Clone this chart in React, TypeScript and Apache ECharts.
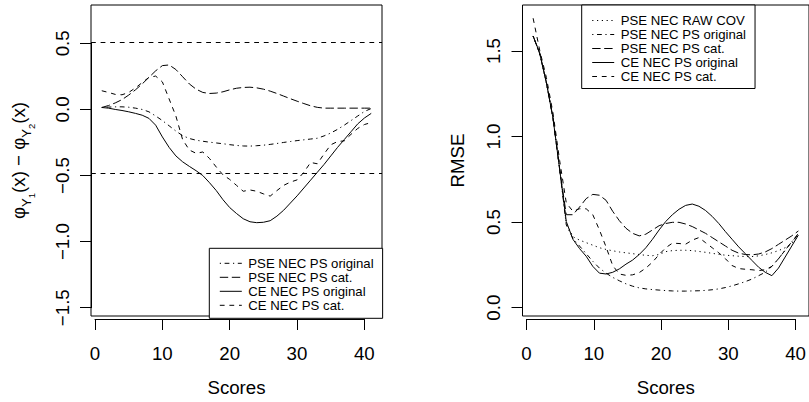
import React, { useEffect, useRef } from "react";
import * as echarts from "echarts";

// ---------- data ----------
const scores = [1, 2, 3, 4, 5, 6, 7, 8, 9, 10, 11, 12, 13, 14, 15, 16, 17, 18, 19, 20, 21, 22, 23, 24, 25, 26, 27, 28, 29, 30, 31, 32, 33, 34, 35, 36, 37, 38, 39, 40, 41];

const xTicks = [0, 10, 20, 30, 40];
const leftYTicks = [-1.5, -1.0, -0.5, 0.0, 0.5];
const rightYTicks = [0.0, 0.5, 1.0, 1.5];
const refLines = [0.5, -0.5];

// left panel: phi_Y1(x) - phi_Y2(x)
const diffPsePsOriginal = [0.005, 0.008, 0.01, 0.01, 0.007, 0.0, -0.01, -0.028, -0.06, -0.095, -0.135, -0.175, -0.21, -0.232, -0.245, -0.253, -0.26, -0.266, -0.272, -0.279, -0.285, -0.289, -0.29, -0.287, -0.283, -0.277, -0.27, -0.262, -0.255, -0.248, -0.242, -0.236, -0.23, -0.212, -0.19, -0.162, -0.13, -0.095, -0.06, -0.025, -0.003];
const diffPsePsCat = [0.005, 0.02, 0.04, 0.065, 0.1, 0.14, 0.185, 0.235, 0.285, 0.325, 0.33, 0.295, 0.24, 0.185, 0.145, 0.12, 0.112, 0.115, 0.125, 0.14, 0.152, 0.158, 0.16, 0.155, 0.145, 0.13, 0.112, 0.092, 0.072, 0.053, 0.035, 0.018, 0.006, 0, 0, 0, 0, 0, 0, 0, 0];
const diffCePsOriginal = [0.005, 0, -0.01, -0.018, -0.028, -0.04, -0.054, -0.078, -0.13, -0.22, -0.3, -0.365, -0.41, -0.445, -0.478, -0.515, -0.57, -0.63, -0.7, -0.76, -0.805, -0.845, -0.868, -0.875, -0.872, -0.86, -0.825, -0.78, -0.725, -0.67, -0.61, -0.55, -0.49, -0.43, -0.365, -0.3, -0.24, -0.18, -0.12, -0.075, -0.04];
const diffCePsCat = [0.133, 0.12, 0.105, 0.102, 0.12, 0.155, 0.195, 0.235, 0.245, 0.2, 0.07, -0.06, -0.24, -0.32, -0.345, -0.335, -0.385, -0.45, -0.51, -0.545, -0.59, -0.635, -0.625, -0.635, -0.655, -0.672, -0.63, -0.59, -0.565, -0.548, -0.49, -0.415, -0.425, -0.35, -0.28, -0.255, -0.25, -0.2, -0.155, -0.125, -0.11];

// right panel: RMSE
const rmsePseRawCov = [1.585, 1.48, 1.31, 1.1, 0.8, 0.48, 0.4, 0.38, 0.365, 0.35, 0.335, 0.325, 0.317, 0.31, 0.305, 0.3, 0.295, 0.29, 0.288, 0.295, 0.312, 0.318, 0.32, 0.32, 0.318, 0.313, 0.308, 0.302, 0.296, 0.291, 0.288, 0.285, 0.283, 0.283, 0.287, 0.295, 0.305, 0.318, 0.335, 0.36, 0.405];
const rmsePsePsOriginal = [1.585, 1.48, 1.31, 1.1, 0.8, 0.47, 0.39, 0.345, 0.3, 0.255, 0.215, 0.185, 0.16, 0.14, 0.122, 0.108, 0.098, 0.092, 0.088, 0.085, 0.082, 0.08, 0.079, 0.079, 0.08, 0.081, 0.083, 0.087, 0.092, 0.1, 0.11, 0.122, 0.135, 0.15, 0.17, 0.19, 0.225, 0.27, 0.32, 0.37, 0.42];
const rmsePsePsCat = [1.585, 1.48, 1.31, 1.1, 0.8, 0.53, 0.53, 0.575, 0.625, 0.65, 0.645, 0.615, 0.55, 0.495, 0.45, 0.42, 0.405, 0.415, 0.44, 0.465, 0.478, 0.485, 0.485, 0.475, 0.46, 0.44, 0.42, 0.395, 0.37, 0.345, 0.32, 0.303, 0.295, 0.293, 0.298, 0.31, 0.33, 0.355, 0.38, 0.405, 0.434];
const rmseCePsOriginal = [1.585, 1.485, 1.31, 1.1, 0.8, 0.49, 0.385, 0.33, 0.285, 0.225, 0.185, 0.18, 0.19, 0.21, 0.238, 0.262, 0.295, 0.335, 0.385, 0.44, 0.49, 0.53, 0.562, 0.585, 0.593, 0.58, 0.555, 0.52, 0.478, 0.43, 0.385, 0.34, 0.3, 0.26, 0.22, 0.19, 0.17, 0.215, 0.28, 0.345, 0.41];
const rmseCePsCat = [1.69, 1.5, 1.34, 1.13, 0.85, 0.6, 0.55, 0.565, 0.565, 0.53, 0.44, 0.34, 0.23, 0.18, 0.172, 0.175, 0.188, 0.215, 0.25, 0.295, 0.335, 0.362, 0.36, 0.356, 0.38, 0.395, 0.365, 0.335, 0.305, 0.27, 0.23, 0.212, 0.208, 0.205, 0.2, 0.205, 0.225, 0.27, 0.32, 0.37, 0.415];

const NAME_RAW = "PSE NEC RAW COV";
const NAME_PSE_ORIG = "PSE NEC PS original";
const NAME_PSE_CAT = "PSE NEC PS cat.";
const NAME_CE_ORIG = "CE NEC PS original";
const NAME_CE_CAT = "CE NEC PS cat.";

const leftLegend = [NAME_PSE_ORIG, NAME_PSE_CAT, NAME_CE_ORIG, NAME_CE_CAT];
const rightLegend = [NAME_RAW, NAME_PSE_ORIG, NAME_PSE_CAT, NAME_CE_ORIG, NAME_CE_CAT];

// ---------- styles ----------
const FONT = '"Liberation Sans", Arial, Helvetica, sans-serif';
const INK = "#000";
const DASHED = [4.8, 4.8];
const LONGDASH = [8.4, 3.6];
const DOTTED = [1.2, 3.6];
const DOTDASH = [1.2, 3.6, 4.8, 3.6];
const SOLID: any = "solid";

const fmt = (v: number) => (Number.isInteger(v) && Math.abs(v) >= 10 ? String(v) : v.toFixed(1)).replace("-", "\u2212");

function lineSeries(name: string, values: number[], dash: any, axis: number, extra: any = {}) {
  return {
    type: "line",
    name,
    xAxisIndex: axis,
    yAxisIndex: axis,
    data: scores.map((s, i) => [s, values[i]]),
    symbol: "none",
    showSymbol: false,
    silent: true,
    lineStyle: { color: INK, width: 1, type: dash },
    itemStyle: { color: INK },
    ...extra,
  };
}

function boxAxisX(gridIndex: number, name: string) {
  return {
    type: "value",
    gridIndex,
    min: -0.6,
    max: 42.6,
    position: "bottom",
    axisLine: { show: false, onZero: false },
    axisTick: { show: false },
    axisLabel: { show: false },
    splitLine: { show: false },
    name,
    nameLocation: "middle",
    nameGap: 61,
    nameTextStyle: { fontFamily: FONT, fontSize: 18.7, color: INK, lineHeight: 20 },
  };
}

function tickAxisX(gridIndex: number) {
  return {
    type: "value",
    gridIndex,
    min: xTicks[0],
    max: xTicks[xTicks.length - 1],
    interval: 10,
    position: "bottom",
    offset: 11.3,
    axisLine: { show: true, onZero: false, lineStyle: { color: INK, width: 1 } },
    axisTick: { show: true, length: 11, lineStyle: { color: INK, width: 1 } },
    axisLabel: { show: true, margin: 24, fontFamily: FONT, fontSize: 18.7, color: INK, lineHeight: 20, formatter: (v: number) => String(v) },
    splitLine: { show: false },
  };
}

function tickAxisY(gridIndex: number, ticks: number[], margin: number) {
  return {
    type: "value",
    gridIndex,
    min: ticks[0],
    max: ticks[ticks.length - 1],
    interval: 0.5,
    position: "left",
    offset: 4,
    axisLine: { show: true, onZero: false, lineStyle: { color: INK, width: 1 } },
    axisTick: { show: true, length: 11, lineStyle: { color: INK, width: 1 } },
    axisLabel: { show: true, rotate: 90, margin, fontFamily: FONT, fontSize: 18.7, color: INK, lineHeight: 20, formatter: fmt },
    splitLine: { show: false },
  };
}

export default function App() {
  const ref = useRef<HTMLDivElement>(null);

  useEffect(() => {
    if (!ref.current) return;
    const chart = echarts.init(ref.current, undefined, { renderer: "svg" });

    const legendBase = {
      orient: "vertical",
      itemWidth: 22,
      itemGap: 0,
      borderColor: INK,
      borderWidth: 1,
      borderRadius: 0,
      backgroundColor: "#fff",
      selectedMode: false,
      itemStyle: { opacity: 0 },
      lineStyle: { color: INK, width: 1 },
      textStyle: { fontFamily: FONT, fontSize: 13.2, lineHeight: 14, color: INK, padding: [0, 0, 0, 1.5] },
    };

    const option: any = {
      animation: false,
      backgroundColor: "#fff",
      grid: [
        { left: 91, top: 5, width: 291, height: 314, show: true, borderColor: INK, borderWidth: 1, backgroundColor: "transparent", containLabel: false },
        { left: 95, top: 43.3, width: 269.3, height: 264.4, containLabel: false },
        { left: 522.5, top: 5, width: 291, height: 314, show: true, borderColor: INK, borderWidth: 1, backgroundColor: "transparent", containLabel: false },
        { left: 526.5, top: 51, width: 269.3, height: 256.7, containLabel: false },
      ],
      xAxis: [boxAxisX(0, "Scores"), tickAxisX(1), boxAxisX(2, "Scores"), tickAxisX(3)],
      yAxis: [
        {
          type: "value",
          gridIndex: 0,
          min: -1.588,
          max: 0.788,
          position: "left",
          axisLine: { show: false, onZero: false },
          axisTick: { show: false },
          axisLabel: { show: false },
          splitLine: { show: false },
          name: "{a|\u03C6}{b|Y}{c|1}{a|(x) \u2212 \u03C6}{b|Y}{c|2}{a|(x)}",
          nameLocation: "middle",
          nameRotate: 90,
          nameGap: 60,
          nameTextStyle: {
            fontFamily: FONT,
            color: INK,
            rich: {
              a: { fontFamily: FONT, fontSize: 18.7, lineHeight: 22, verticalAlign: "top", color: INK },
              b: { fontFamily: FONT, fontSize: 13, lineHeight: 13, padding: [11, 0, 0, 0], verticalAlign: "top", color: INK },
              c: { fontFamily: FONT, fontSize: 9.5, lineHeight: 10, padding: [17, 0, 0, 0], verticalAlign: "top", color: INK },
            },
          },
        },
        tickAxisY(1, leftYTicks, 18.5),
        {
          type: "value",
          gridIndex: 2,
          min: -0.068,
          max: 1.768,
          position: "left",
          axisLine: { show: false, onZero: false },
          axisTick: { show: false },
          axisLabel: { show: false },
          splitLine: { show: false },
          name: "RMSE",
          nameLocation: "middle",
          nameRotate: 90,
          nameGap: 55,
          nameTextStyle: { fontFamily: FONT, fontSize: 18.7, color: INK, lineHeight: 20 },
        },
        tickAxisY(3, rightYTicks, 19.5),
      ],
      legend: [
        { ...legendBase, data: leftLegend, left: 209.3, top: 248.3, itemHeight: 14.2, padding: [8, 9, 6, 10] },
        { ...legendBase, data: rightLegend, left: 581.7, top: 5, itemHeight: 14.4, padding: [8.5, 9, 5, 10] },
      ],
      series: [
        lineSeries(NAME_PSE_ORIG, diffPsePsOriginal, DOTDASH, 0),
        lineSeries(NAME_PSE_CAT, diffPsePsCat, LONGDASH, 0),
        lineSeries(NAME_CE_ORIG, diffCePsOriginal, SOLID, 0),
        lineSeries(NAME_CE_CAT, diffCePsCat, DASHED, 0, {
          markLine: {
            silent: true,
            symbol: ["none", "none"],
            label: { show: false },
            lineStyle: { color: INK, width: 1, type: DASHED },
            data: refLines.map((v) => ({ yAxis: v })),
          },
        }),
        lineSeries(NAME_RAW, rmsePseRawCov, DOTTED, 2),
        lineSeries(NAME_PSE_ORIG, rmsePsePsOriginal, DOTDASH, 2),
        lineSeries(NAME_PSE_CAT, rmsePsePsCat, LONGDASH, 2),
        lineSeries(NAME_CE_ORIG, rmseCePsOriginal, SOLID, 2),
        lineSeries(NAME_CE_CAT, rmseCePsCat, DASHED, 2),
      ],
    };

    chart.setOption(option);
    return () => chart.dispose();
  }, []);

  return <div ref={ref} style={{ position: "fixed", left: 0, top: 0, width: 809, height: 402, background: "#fff" }} />;
}
